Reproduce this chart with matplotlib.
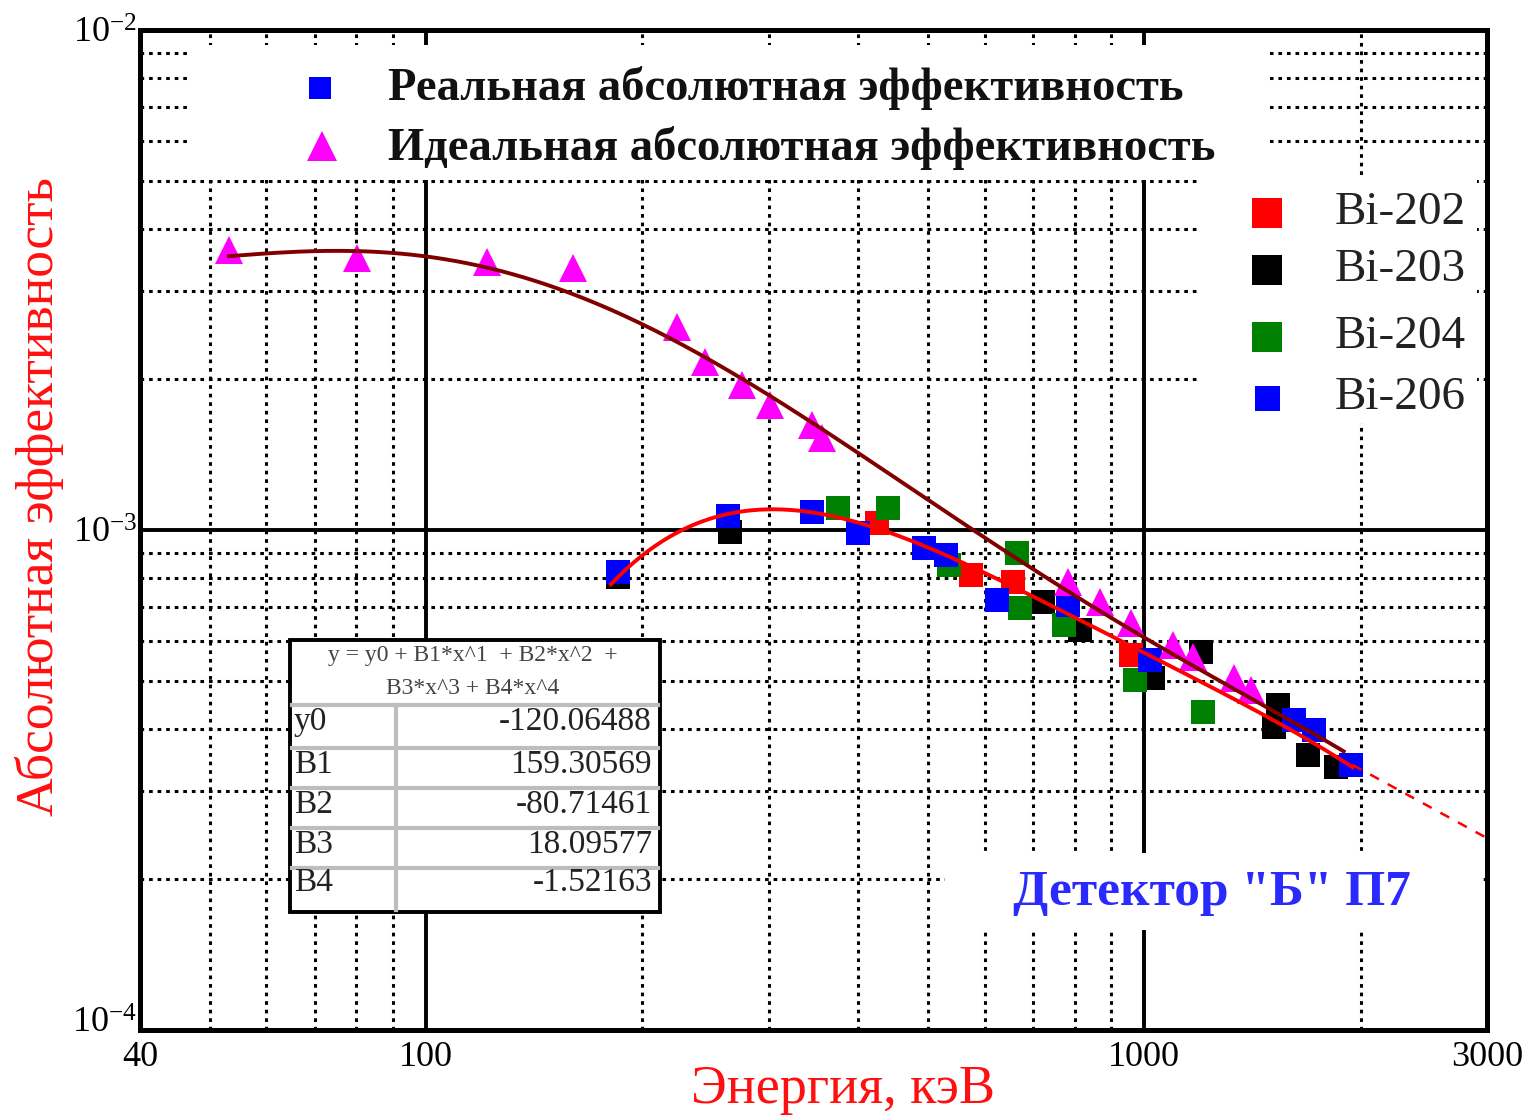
import numpy as np
import matplotlib
matplotlib.use('Agg')
import matplotlib.pyplot as plt
from matplotlib.patches import Rectangle
from matplotlib.lines import Line2D
from matplotlib.ticker import FixedLocator, LogLocator, NullFormatter, FixedFormatter

plt.rcParams['font.family'] = ['Liberation Serif', 'DejaVu Serif']
plt.rcParams['mathtext.fontset'] = 'custom'
plt.rcParams['mathtext.rm'] = 'Liberation Serif'
plt.rcParams['mathtext.it'] = 'Liberation Serif:italic'

# ---------------- data ----------------
# Ideal absolute efficiency (triangles)
ideal_E = [53.2, 80.2, 121.7, 160.3, 223.8, 245, 275.8, 301.5, 345, 356,
           782, 869, 957, 1098, 1171, 1332, 1406]
ideal_eff = [3.63e-3, 3.50e-3, 3.44e-3, 3.34e-3, 2.55e-3, 2.17e-3, 1.95e-3, 1.78e-3, 1.62e-3, 1.53e-3,
             7.87e-4, 7.18e-4, 6.52e-4, 5.89e-4, 5.57e-4, 5.06e-4, 4.79e-4]

# Ideal curve
ideal_fit_E = [53.2, 54.6, 59.4, 67.5, 86.4, 99.2, 115.3, 128.1, 147.5, 164, 182.4, 212, 257, 311,
               377.5, 453, 504, 591.6, 688, 764, 898, 1054, 1237, 1452, 1704, 1895]
ideal_fit_eff = [3.50e-3, 3.52e-3, 3.58e-3, 3.66e-3, 3.66e-3, 3.53e-3, 3.37e-3, 3.27e-3, 3.05e-3, 2.88e-3,
                 2.72e-3, 2.48e-3, 2.17e-3, 1.86e-3, 1.51e-3, 1.26e-3, 1.13e-3, 9.86e-4, 8.32e-4, 7.59e-4,
                 6.61e-4, 5.94e-4, 5.13e-4, 4.57e-4, 3.93e-4, 3.58e-4]

# Real absolute efficiency per isotope
bi202_E = [424, 573, 656, 957]
bi202_eff = [1.033e-3, 8.13e-4, 7.87e-4, 5.62e-4]

bi203_E = [185, 265, 722, 815, 1030, 1198, 1533, 1514, 1688, 1847]
bi203_eff = [8.05e-4, 9.9e-4, 7.18e-4, 6.31e-4, 5.06e-4, 5.70e-4, 4.47e-4, 4.04e-4, 3.55e-4, 3.36e-4]

bi204_E = [375, 440, 534, 666, 672, 772, 972, 1209]
bi204_eff = [1.106e-3, 1.106e-3, 8.51e-4, 8.99e-4, 6.98e-4, 6.46e-4, 5.01e-4, 4.33e-4]

bi206_E = [185, 263.6, 345, 399, 494, 529, 623, 782, 1020, 1614, 1721, 1938]
bi206_eff = [8.24e-4, 1.067e-3, 1.087e-3, 9.86e-4, 9.2e-4, 8.9e-4, 7.24e-4, 7.08e-4, 5.5e-4, 4.17e-4, 3.98e-4, 3.39e-4]

# Polynomial fit shown in the table: log10(eff) = y0 + B1*x + ... , x = log10(E)
fit_names = ['y0', 'B1', 'B2', 'B3', 'B4']
fit_coeffs = [-120.06488, 159.30569, -80.71461, 18.09577, -1.52163]
fit_range = [181, 1950]
ext_E = [1950, 3000]
ext_eff = [3.39e-4, 2.42e-4]

x_ticks = [40, 100, 1000, 3000]
x_ticklabels = ['40', '100', '1000', '3000']
y_ticks = [1e-4, 1e-3, 1e-2]
y_ticklabels = [r'$10^{-4}$', r'$10^{-3}$', r'$10^{-2}$']

series = [('Bi-202', bi202_E, bi202_eff, '#ff0000'),
          ('Bi-203', bi203_E, bi203_eff, '#000000'),
          ('Bi-204', bi204_E, bi204_eff, '#008000'),
          ('Bi-206', bi206_E, bi206_eff, '#0000ff')]

# ---------------- figure ----------------
W, H = 1530, 1119
fig = plt.figure(figsize=(W / 100, H / 100), dpi=100)
L, R, T, B = 140, 1487, 30, 1030
ax = fig.add_axes([L / W, 1 - B / H, (R - L) / W, (B - T) / H])
ax.set_xscale('log')
ax.set_yscale('log')
ax.set_xlim(40, 3000)
ax.set_ylim(1e-4, 1e-2)

ax.xaxis.set_major_locator(FixedLocator(x_ticks))
ax.xaxis.set_major_formatter(FixedFormatter(x_ticklabels))
ax.xaxis.set_minor_locator(LogLocator(base=10, subs=np.arange(2, 10)))
ax.xaxis.set_minor_formatter(NullFormatter())
ax.yaxis.set_major_locator(FixedLocator(y_ticks))
ax.yaxis.set_major_formatter(FixedFormatter(y_ticklabels))
ax.yaxis.set_minor_locator(LogLocator(base=10, subs=np.arange(2, 10)))
ax.yaxis.set_minor_formatter(NullFormatter())
ax.tick_params(which='both', length=0)
ax.tick_params(axis='x', labelsize=26, pad=8)
ax.tick_params(axis='y', labelsize=26, pad=2)
for lbl in ax.get_yticklabels():
    lbl.set_verticalalignment('center_baseline')

ax.grid(which='major', color='black', lw=2.8, ls='-')
ax.grid(which='minor', color='black', lw=2.2, ls=(0, (1.2, 1.6)))
for s in ax.spines.values():
    s.set_linewidth(3.6)

def fig_rect(x0, y0, x1, y1, **kw):
    r = Rectangle((x0 / W, 1 - y1 / H), (x1 - x0) / W, (y1 - y0) / H,
                  transform=fig.transFigure, clip_on=False, **kw)
    ax.add_patch(r)
    return r

# white boxes that hide the grid
fig_rect(190, 45, 1270, 180, facecolor='white', edgecolor='none', zorder=2.5)
fig_rect(1197, 178, 1477, 423, facecolor='white', edgecolor='none', zorder=2.5)
fig_rect(945, 853, 1480, 930, facecolor='white', edgecolor='none', zorder=2.5)

# data markers
for name, E, eff, c in series:
    ax.plot(E, eff, ls='none', marker='s', ms=17, color=c, mec=c, mew=0, zorder=3)
ax.plot(ideal_E, ideal_eff, ls='none', marker='^', ms=20, color='#ff00ff', mew=0, zorder=3)

# curves: smooth curve through the read points of the ideal fit line
lxi = np.log10(ideal_fit_E)
lyi = np.log10(ideal_fit_eff)
pc = np.polyfit(lxi, lyi, 5)
xi = np.linspace(lxi[0], lxi[-1], 300)
ax.plot(10 ** xi, 10 ** np.polyval(pc, xi), color='#800000', lw=2.8, zorder=4)

xf = np.geomspace(fit_range[0], fit_range[1], 200)
lx = np.log10(xf)
ly = sum(c * lx ** i for i, c in enumerate(fit_coeffs))
ax.plot(xf, 10 ** ly, color='#ff0000', lw=2.8, zorder=4.1)
ax.plot(ext_E, ext_eff, color='#ff0000', lw=1.8, ls=(0, (4, 4)), zorder=4.1)

# ---------------- legends ----------------
def P(x, y):
    return (x / W, 1 - y / H)

def fig_marker(x, y, marker, ms, color):
    ln = Line2D([x / W], [1 - y / H], marker=marker, ms=ms, color=color, mew=0,
                ls='none', transform=fig.transFigure, zorder=6)
    fig.add_artist(ln)

fig_marker(320, 88, 's', 16, '#0000ff')
fig_marker(322, 146, '^', 22, '#ff00ff')
fig.text(*P(388, 88), 'Реальная абсолютная эффективность', fontsize=33.5, fontweight='bold',
         ha='left', va='center', color='#111111')
fig.text(*P(388, 148), 'Идеальная абсолютная эффективность', fontsize=33.5, fontweight='bold',
         ha='left', va='center', color='#111111')

leg_y = [213, 270, 337, 398]
leg_ms = [21, 21, 21, 18]
for (name, E, eff, c), yy, ms in zip(series, leg_y, leg_ms):
    fig_marker(1267, yy, 's', ms, c)
    fig.text(*P(1335, yy), name, fontsize=34, ha='left', va='center', color='#222222')

fig.text(*P(1212, 893), 'Детектор "Б" П7', fontsize=37, fontweight='bold',
         ha='center', va='center', color='#2a2aff')

# axis labels
fig.text(*P(40, 497), 'Абсолютная эффективность', fontsize=38.5, rotation=90,
         ha='center', va='center', color='#ff1010')
fig.text(*P(843, 1090), 'Энергия, кэВ', fontsize=39, ha='center', va='center', color='#ff1010')

# ---------------- table ----------------
tx0, ty0, tx1, ty1 = 290, 640, 660, 912
fig_rect(tx0, ty0, tx1, ty1, facecolor='white', edgecolor='black', lw=2.8, zorder=5)
row_lines = [705, 748, 788, 828, 868]
for yy in row_lines:
    fig.add_artist(Line2D([(tx0 + 2) / W, (tx1 - 2) / W], [1 - yy / H] * 2, color='#bdbdbd',
                          lw=3, transform=fig.transFigure, zorder=6))
fig.add_artist(Line2D([396 / W] * 2, [1 - 705 / H, 1 - (ty1 - 2) / H], color='#bdbdbd',
                      lw=3, transform=fig.transFigure, zorder=6))
fig.text(*P(473, 656), 'y = y0 + B1*x^1  + B2*x^2  +', fontsize=17, ha='center', va='center',
         color='#444444', zorder=7)
fig.text(*P(473, 689), 'B3*x^3 + B4*x^4', fontsize=17, ha='center', va='center',
         color='#444444', zorder=7)
row_y = [722, 765, 805, 845, 883]
for nm, cv, yy in zip(fit_names, fit_coeffs, row_y):
    fig.text(*P(294, yy), nm, fontsize=24, ha='left', va='center', color='#222222', zorder=7)
    fig.text(*P(652, yy), f'{cv:.5f}', fontsize=24, ha='right', va='center', color='#222222', zorder=7)

fig.canvas.draw()
# lift the lowest y tick label slightly, as in the reference
from matplotlib.transforms import ScaledTranslation
for lbl in ax.get_yticklabels():
    if '-4' in lbl.get_text():
        lbl.set_transform(lbl.get_transform() + ScaledTranslation(0, 10 / 100, fig.dpi_scale_trans))

fig.savefig('out.png', dpi=100, facecolor='white')
